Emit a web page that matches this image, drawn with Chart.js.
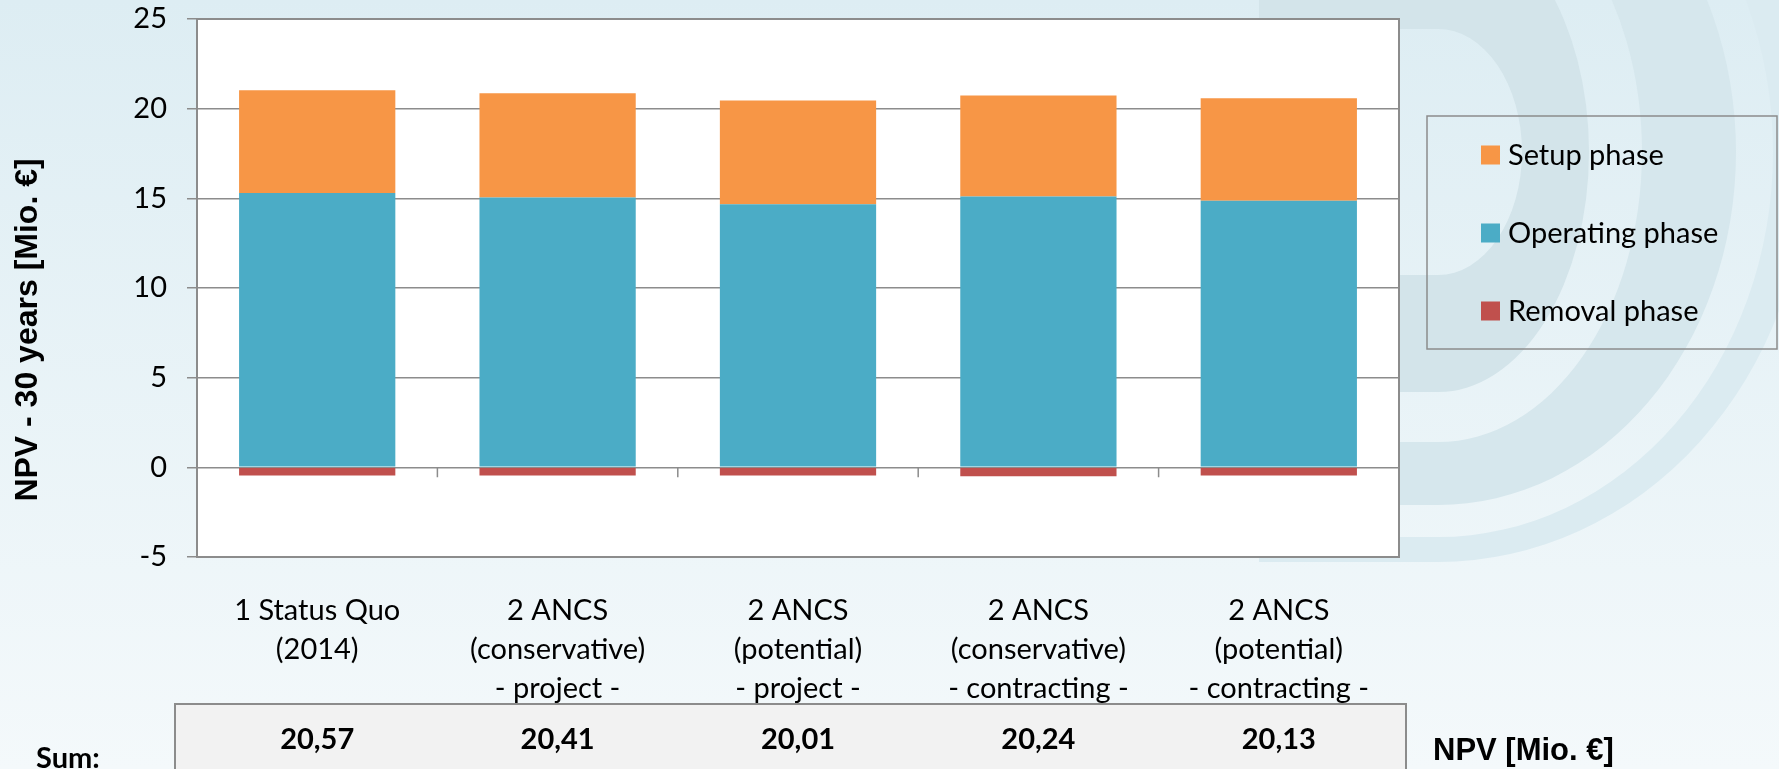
<!DOCTYPE html>
<html>
<head>
<meta charset="utf-8">
<title>NPV - 30 years</title>
<script src="https://cdn.jsdelivr.net/npm/chart.js@4.4.1/dist/chart.umd.min.js"></script>
<style>
  html, body { margin: 0; padding: 0; background: #e8f3f7; }
  #wrap { position: relative; width: 1779px; height: 769px; }
</style>
</head>
<body>
<div id="wrap"><canvas id="npvChart"></canvas></div>
<script>
// --- Data ---
const categories = [
  ['1 Status Quo', '(2014)'],
  ['2 ANCS', '(conservative)', '- project -'],
  ['2 ANCS', '(potential)', '- project -'],
  ['2 ANCS', '(conservative)', '- contracting -'],
  ['2 ANCS', '(potential)', '- contracting -']
];
const setupPhase = [5.72, 5.82, 5.79, 5.64, 5.71];
const operatingPhase = [15.30, 15.04, 14.67, 15.10, 14.87];
const removalPhase = [-0.45, -0.45, -0.45, -0.50, -0.45];
const npvSums = [20.57, 20.41, 20.01, 20.24, 20.13];
const yMin = -5, yMax = 25, yStep = 5;

const textFont = "Lato, 'Open Sans', sans-serif";
const arialFont = "'Liberation Sans', Arial, sans-serif";
const lineGrey = '#8c8c8c';

const colors = {
  setup: '#f79646',
  operating: '#4bacc6',
  removal: '#c0504d'
};

// background gradient, the pale rings on the right and the white plot area
const backdrop = {
  id: 'backdrop',
  beforeDraw(chart) {
    const { ctx, width, height, chartArea: a } = chart;
    ctx.save();
    const g = ctx.createLinearGradient(0, 0, 0, height);
    g.addColorStop(0, '#ddedf3');
    g.addColorStop(1, '#f4f9fb');
    ctx.fillStyle = g;
    ctx.fillRect(0, 0, width, height);

    const cx = 1438, cy = 152, xl = 1259;
    const dShape = (rx, ry) => {
      ctx.moveTo(xl, cy - ry);
      ctx.lineTo(cx, cy - ry);
      ctx.ellipse(cx, cy, rx, ry, 0, -Math.PI / 2, Math.PI / 2);
      ctx.lineTo(xl, cy + ry);
      ctx.closePath();
    };
    const rings = [
      { inner: [84, 123], outer: [151, 240], color: '#d3e4ea' },
      { inner: [204, 290], outer: [298, 353], color: '#d6e7ed' },
      { inner: [335, 385], outer: [370, 410], color: '#dbebf1' }
    ];
    rings.forEach(r => {
      ctx.beginPath();
      dShape(r.outer[0], r.outer[1]);
      dShape(r.inner[0], r.inner[1]);
      ctx.fillStyle = r.color;
      ctx.fill('evenodd');
    });

    ctx.fillStyle = '#ffffff';
    ctx.fillRect(a.left, a.top, a.right - a.left, a.bottom - a.top);
    ctx.restore();
  }
};

// frame, zero-line ticks, axis title, legend and the sum table
const extras = {
  id: 'extras',
  afterDraw(chart) {
    const { ctx, height, chartArea: a } = chart;
    const x = chart.scales.x, y = chart.scales.y;
    ctx.save();

    ctx.strokeStyle = lineGrey;
    ctx.lineWidth = 2;
    ctx.strokeRect(a.left, a.top, a.right - a.left, a.bottom - a.top);

    // category separators below the zero line
    const y0 = y.getPixelForValue(0);
    ctx.lineWidth = 1.5;
    ctx.beginPath();
    for (let i = 1; i < categories.length; i++) {
      const xb = (x.getPixelForValue(i - 1) + x.getPixelForValue(i)) / 2;
      ctx.moveTo(xb, y0);
      ctx.lineTo(xb, y0 + 10);
    }
    ctx.stroke();

    // y axis title
    ctx.save();
    ctx.translate(28, 330);
    ctx.rotate(-Math.PI / 2);
    ctx.fillStyle = '#000';
    ctx.font = `bold 32px ${arialFont}`;
    ctx.textAlign = 'center';
    ctx.textBaseline = 'middle';
    ctx.fillText('NPV - 30 years [Mio. €]', 0, 0);
    ctx.restore();

    // legend
    const lx = a.right + 28, ly = 116;
    ctx.strokeStyle = lineGrey;
    ctx.lineWidth = 1.5;
    ctx.strokeRect(lx, ly, 350, 233);
    const items = [
      ['Setup phase', colors.setup],
      ['Operating phase', colors.operating],
      ['Removal phase', colors.removal]
    ];
    ctx.font = `29px ${textFont}`;
    ctx.textAlign = 'left';
    ctx.textBaseline = 'middle';
    items.forEach(([label, c], i) => {
      const cyItem = ly + 39 + i * 78;
      ctx.fillStyle = c;
      ctx.fillRect(lx + 54, cyItem - 9.5, 19, 19);
      ctx.fillStyle = '#000';
      ctx.fillText(label, lx + 81, cyItem + 1);
    });

    // sum table
    ctx.fillStyle = '#f2f2f2';
    ctx.fillRect(a.left - 22, 704, a.right - a.left + 29, height - 700);
    ctx.strokeStyle = lineGrey;
    ctx.lineWidth = 2;
    ctx.strokeRect(a.left - 22, 704, a.right - a.left + 29, height - 700);
    ctx.fillStyle = '#000';
    ctx.font = `bold 29px ${textFont}`;
    ctx.textAlign = 'center';
    npvSums.forEach((v, i) => {
      ctx.fillText(v.toFixed(2).replace('.', ','), x.getPixelForValue(i), 740);
    });

    ctx.textAlign = 'left';
    ctx.textBaseline = 'alphabetic';
    ctx.fillText('Sum:', 36, 768);
    ctx.font = `bold 31px ${arialFont}`;
    ctx.textBaseline = 'middle';
    ctx.fillText('NPV [Mio. €]', a.right + 34, 751);

    ctx.restore();
  }
};

const ctx = document.getElementById('npvChart').getContext('2d');

new Chart(ctx, {
  type: 'bar',
  data: {
    labels: categories,
    datasets: [
      { label: 'Operating phase', data: operatingPhase, backgroundColor: colors.operating },
      { label: 'Setup phase', data: setupPhase, backgroundColor: colors.setup },
      { label: 'Removal phase', data: removalPhase, backgroundColor: colors.removal }
    ]
  },
  options: {
    responsive: true,
    maintainAspectRatio: false,
    animation: false,
    layout: { padding: { top: 19, right: 380, bottom: 0, left: 0 } },
    datasets: {
      bar: { categoryPercentage: 1, barPercentage: 0.65, borderWidth: 0 }
    },
    plugins: {
      legend: { display: false },
      tooltip: { enabled: false }
    },
    scales: {
      x: {
        stacked: true,
        grid: { display: false },
        border: { display: false },
        ticks: {
          color: '#000',
          padding: 26,
          maxRotation: 0,
          autoSkip: false,
          font: { family: textFont, size: 29, lineHeight: 1.35 }
        },
        afterFit(scale) { scale.height = 212; }
      },
      y: {
        stacked: true,
        min: yMin,
        max: yMax,
        grid: { color: lineGrey, lineWidth: 1.5, tickLength: 10, tickColor: lineGrey },
        border: { display: false },
        ticks: {
          stepSize: yStep,
          color: '#000',
          padding: 20,
          font: { family: textFont, size: 29 }
        },
        afterFit(scale) {
          scale.width = 197;
          scale.paddingTop = 0;
          scale.paddingBottom = 0;
        }
      }
    }
  },
  plugins: [backdrop, extras]
});
</script>
</body>
</html>
